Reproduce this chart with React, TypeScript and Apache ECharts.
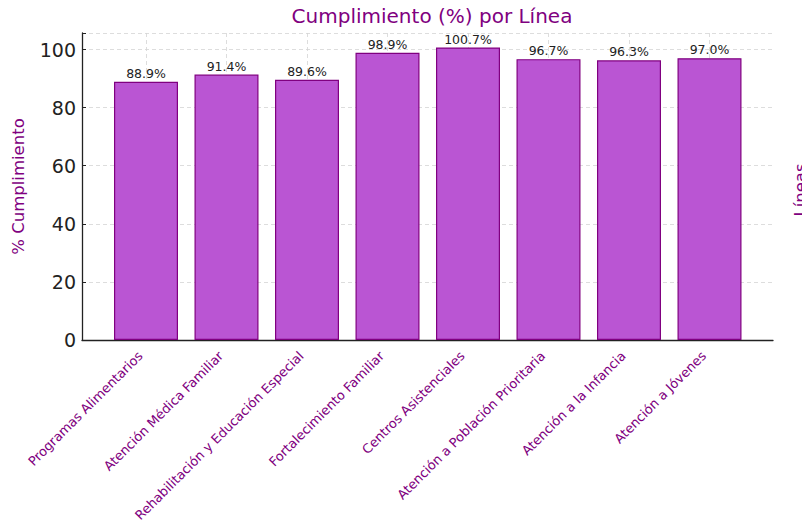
import React, { useEffect, useRef } from "react";
import * as echarts from "echarts";

const categories = [
  "Programas Alimentarios",
  "Atención Médica Familiar",
  "Rehabilitación y Educación Especial",
  "Fortalecimiento Familiar",
  "Centros Asistenciales",
  "Atención a Población Prioritaria",
  "Atención a la Infancia",
  "Atención a Jóvenes",
];
const values = [88.9, 91.4, 89.6, 98.9, 100.7, 96.7, 96.3, 97.0];
const yTicks = [0, 20, 40, 60, 80, 100];

const FONT = "DejaVu Sans";
const PURPLE = "#800080";

export default function App() {
  const ref = useRef<HTMLDivElement>(null);
  useEffect(() => {
    if (!ref.current) return;
    const chart = echarts.init(ref.current, undefined, { renderer: "svg" });
    const yMax = 105.7;
    const gridLine = { show: true, lineStyle: { color: "#d4d4d4", type: [4, 3], width: 0.8 } };
    chart.setOption({
      animation: false,
      textStyle: { fontFamily: FONT },
      title: {
        text: "Cumplimiento (%) por Línea",
        left: 427,
        textAlign: "center",
        top: 1,
        textStyle: { color: PURPLE, fontSize: 20, fontWeight: "normal", fontFamily: FONT },
      },
      grid: [
        { left: 82, right: 29, top: 33, bottom: 186 },
        { left: 146, right: 92.5, top: 33, bottom: 186 },
      ],
      xAxis: [
        {
          type: "value",
          gridIndex: 0,
          min: 0,
          max: 1,
          axisLine: { show: true, lineStyle: { color: "#222", width: 1.3 } },
          axisTick: { show: false },
          axisLabel: { show: false },
          splitLine: { show: false },
        },
        {
          type: "category",
          gridIndex: 1,
          data: categories,
          boundaryGap: false,
          axisLine: { show: false },
          axisTick: { show: true, inside: true, length: 4, lineStyle: { color: "#222" } },
          axisLabel: {
            rotate: 45,
            interval: 0,
            color: PURPLE,
            fontSize: 13,
            fontFamily: FONT,
            margin: 8,
            padding: [0, 8, 0, 0],
          },
          splitLine: gridLine,
        },
      ],
      yAxis: [
        {
          type: "value",
          gridIndex: 0,
          min: 0,
          max: yMax,
          interval: 20,
          name: "% Cumplimiento",
          nameLocation: "middle",
          nameGap: 55,
          nameTextStyle: { color: PURPLE, fontSize: 16.5, fontFamily: FONT },
          axisLine: { show: true, lineStyle: { color: "#222", width: 1.3 } },
          axisTick: { show: true, inside: true, length: 4, lineStyle: { color: "#222" } },
          axisLabel: {
            color: "#222",
            fontSize: 19,
            fontFamily: FONT,
            margin: 6,
            formatter: (v: number) => (yTicks.includes(v) ? String(v) : ""),
          },
          splitLine: gridLine,
        },
        {
          type: "value",
          gridIndex: 1,
          min: 0,
          max: yMax,
          interval: 20,
          show: false,
          splitLine: { show: false },
        },
      ],
      graphic: [
        {
          type: "text",
          x: 792,
          y: 190,
          rotation: Math.PI / 2,
          style: {
            text: "Líneas",
            fill: PURPLE,
            font: `16.5px "${FONT}"`,
            textAlign: "center",
            textVerticalAlign: "top",
          },
        },
      ],
      series: [
        {
          type: "bar",
          xAxisIndex: 1,
          yAxisIndex: 1,
          data: values,
          barWidth: 64,
          itemStyle: { color: "#BA55D3", borderColor: PURPLE, borderWidth: 1.2 },
          label: {
            show: true,
            position: "top",
            distance: 2,
            color: "#222",
            fontSize: 12.5,
            fontFamily: FONT,
            formatter: (p: any) => `${p.value.toFixed(1)}%`,
          },
          z: 1,
        },
      ],
    });
    return () => chart.dispose();
  }, []);
  return <div ref={ref} style={{ width: 802, height: 526, position: "absolute", left: 0, top: 0 }} />;
}
